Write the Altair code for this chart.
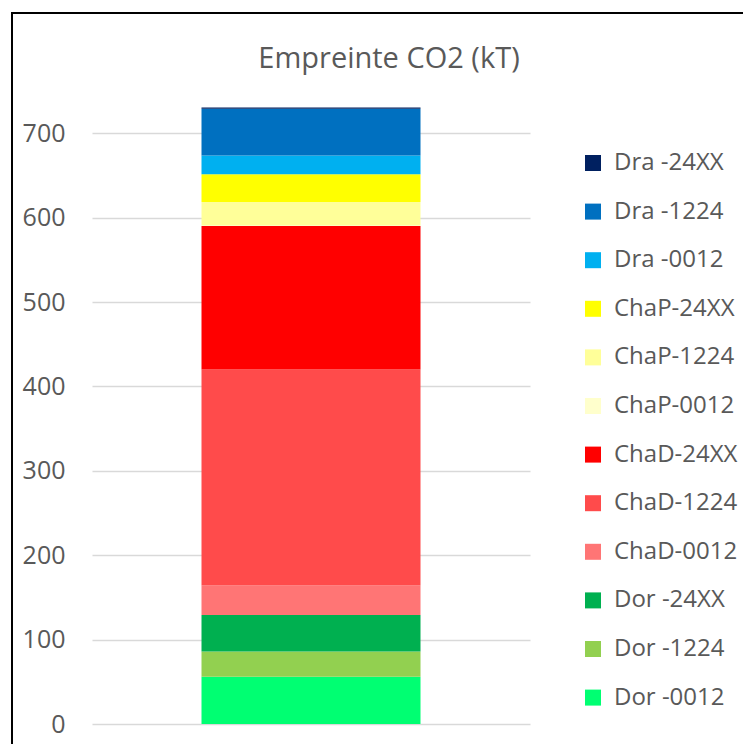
import altair as alt
import pandas as pd

series = ["Dor -0012", "Dor -1224", "Dor -24XX",
          "ChaD-0012", "ChaD-1224", "ChaD-24XX",
          "ChaP-0012", "ChaP-1224", "ChaP-24XX",
          "Dra -0012", "Dra -1224", "Dra -24XX"]
values = [56, 30, 43, 35, 256, 170, 0.5, 28, 33, 22, 55.5, 1.5]
colors = ["#00FF72", "#92D050", "#00B050",
          "#FF7575", "#FF4B4B", "#FF0000",
          "#FFFFCC", "#FFFF99", "#FFFF00",
          "#00B0F0", "#0070C0", "#002060"]
y_ticks = [0, 100, 200, 300, 400, 500, 600, 700]
category = ["Empreinte"]
title_text = ["Empreinte CO2 (kT)"]

df = pd.DataFrame({
    "cat": category * len(series),
    "serie": series,
    "val": values,
    "idx": list(range(len(series))),
})

FONT = "Open Sans"
GRAY = "#595959"

bars = alt.Chart(df).mark_bar().encode(
    x=alt.X("cat:N", axis=None,
            scale=alt.Scale(paddingInner=0, paddingOuter=0.5)),
    y=alt.Y("sum(val):Q", stack="zero",
            scale=alt.Scale(domain=[0, 750], nice=False),
            axis=alt.Axis(values=y_ticks, title=None, domain=False, ticks=False,
                          labelFont=FONT, labelFontSize=25, labelColor=GRAY,
                          labelPadding=27, gridColor="#D9D9D9", gridWidth=1.5)),
    color=alt.Color("serie:N",
                    scale=alt.Scale(domain=series[::-1], range=colors[::-1]),
                    legend=alt.Legend(title=None, orient="none", legendX=489, legendY=60,
                                      symbolType="square", symbolSize=256,
                                      symbolStrokeWidth=0, symbolOpacity=1,
                                      labelFont=FONT, labelFontSize=24, labelColor=GRAY,
                                      labelOffset=9, rowPadding=24.6, padding=0,
                                      labelLimit=300)),
    order=alt.Order("idx:Q", sort="ascending"),
)

title = alt.Chart(alt.Data(values=[{"t": t} for t in title_text])).mark_text(
    font=FONT, fontSize=29, color=GRAY, align="center", baseline="alphabetic"
).encode(
    text="t:N", x=alt.value(297), y=alt.value(-23),
)

frame = alt.Chart(alt.Data(values=[{}])).mark_rect(
    filled=False, stroke="black", strokeWidth=2, clip=False
).encode(
    x=alt.value(-80), x2=alt.value(900),
    y=alt.value(-78), y2=alt.value(900),
)

chart = alt.layer(bars, title, frame).properties(
    width=438, height=633,
    autosize=alt.AutoSizeParams(type="none"),
    padding={"left": 84, "top": 83, "right": 213, "bottom": 20},
).configure_view(stroke=None)

chart.save("out.html", embed_options={"renderer": "svg", "actions": False})
